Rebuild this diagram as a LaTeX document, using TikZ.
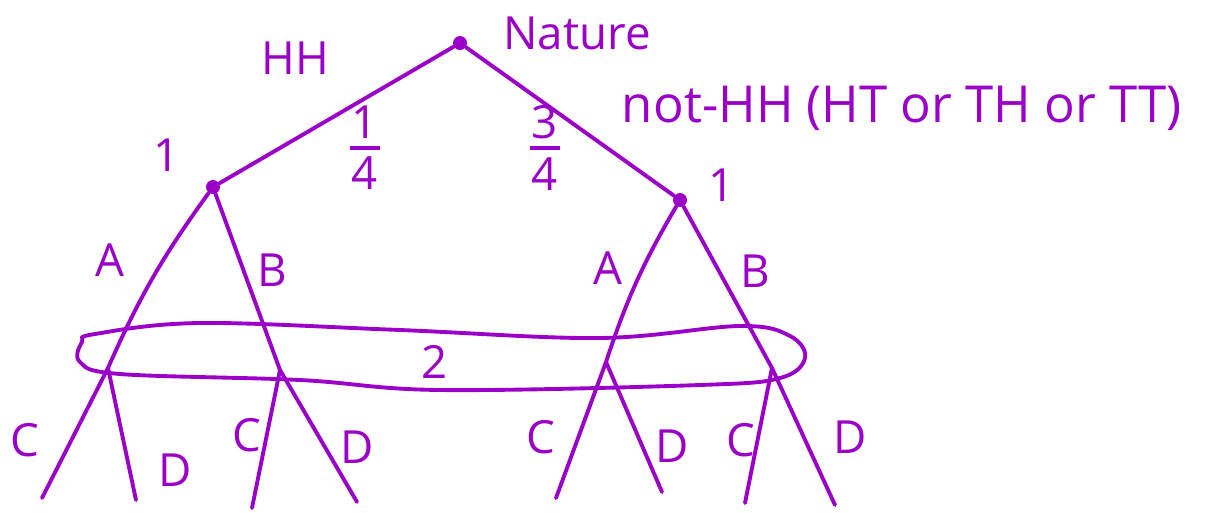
\documentclass[tikz,border=0pt]{standalone}
\usepackage{fontspec}
\setmainfont{Open Sans}
\definecolor{ink}{RGB}{155,0,200}
\newcommand{\prob}[2]{\shortstack{#1\\[1pt]\rule{0.6cm}{2.2pt}\\[1pt]#2}}

\begin{document}
\begin{tikzpicture}[x=0.02cm,y=-0.02cm,
    every node/.style={font=\fontsize{26}{30}\selectfont,text=ink},
    move/.style={draw=ink,line width=2.2pt,line cap=round},
    dot/.style={circle,fill=ink,inner sep=0pt,minimum size=0.28cm}]
  \useasboundingbox (0,0) rectangle (1217,512);
  % Nature
  \node[dot] at (460,43) (N) {};
  \node at (577,33) (Nlab) {Nature};
  \node at (295,58) (HH) {HH};
  \node[font=\fontsize{29}{33}\selectfont] at (902,108) (notHH) {not-HH (HT or TH or TT)};
  \node at (365,148) (pHH) {\prob{1}{4}};
  \node at (545,148) (pnotHH) {\prob{3}{4}};
  % player 1
  \node[dot] at (213,187) (L1) {};
  \node[dot] at (680,200) (R1) {};
  \node at (167,155) (L1lab) {1};
  \node at (722,185) (R1lab) {1};
  \draw[move] (N) -- (L1);
  \draw[move] (N) -- (R1);
  % player 2
  \coordinate (L2a) at (108,368);
  \coordinate (L2b) at (280,370);
  \coordinate (R2a) at (606,362);
  \coordinate (R2b) at (772,368);
  \draw[move] (L1) to[bend right=6] (L2a);
  \draw[move] (L1) -- (L2b);
  \draw[move] (R1) to[bend right=6] (R2a);
  \draw[move] (R1) -- (R2b);
  \node at (110,260) (A1) {A};
  \node at (272,270) (B1) {B};
  \node at (608,268) (A2) {A};
  \node at (755,271) (B2) {B};
  % information set
  \draw[move] plot[smooth cycle,tension=0.6] coordinates {(95,334) (200,323)
    (400,330) (600,338) (740,326) (790,336) (805,358) (780,378) (700,385)
    (440,390) (300,380) (120,374) (80,362) (82,342)};
  \node at (435,362) (P2) {2};
  % leaves
  \coordinate (t1) at (42,498);
  \coordinate (t2) at (136,500);
  \coordinate (t3) at (252,508);
  \coordinate (t4) at (357,502);
  \coordinate (t5) at (556,498);
  \coordinate (t6) at (662,492);
  \coordinate (t7) at (745,503);
  \coordinate (t8) at (835,505);
  \draw[move] (L2a) -- (t1);
  \draw[move] (L2a) -- (t2);
  \draw[move] (L2b) -- (t3);
  \draw[move] (L2b) -- (t4);
  \draw[move] (R2a) -- (t5);
  \draw[move] (R2a) -- (t6);
  \draw[move] (R2b) -- (t7);
  \draw[move] (R2b) -- (t8);
  \node at (25,440) (C1) {C};
  \node at (175,470) (D1) {D};
  \node at (247,435) (C2) {C};
  \node at (357,447) (D2) {D};
  \node at (541,437) (C3) {C};
  \node at (672,446) (D3) {D};
  \node at (741,440) (C4) {C};
  \node at (850,437) (D4) {D};
\end{tikzpicture}
\end{document}
